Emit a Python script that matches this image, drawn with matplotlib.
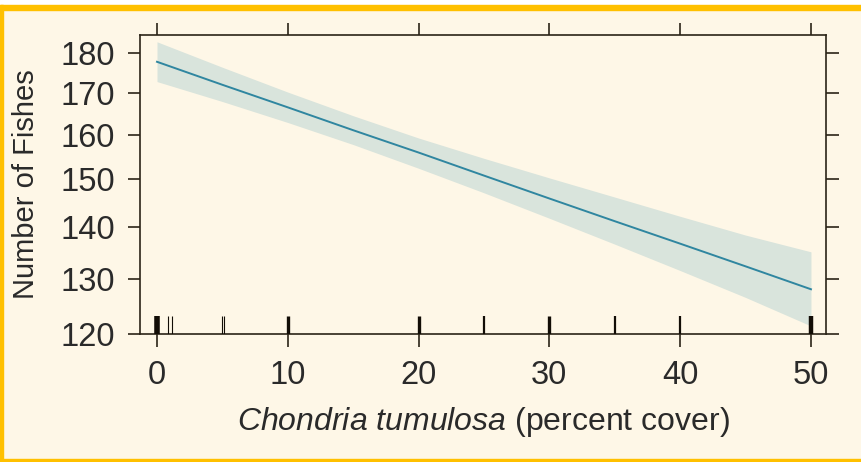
import matplotlib
matplotlib.use("Agg")
import matplotlib.pyplot as plt
import matplotlib.transforms as mtransforms
from matplotlib.patches import Rectangle

# effect of Chondria cover on fish counts (fitted line + 95% band, log axis)
cover = [0, 5, 10, 15, 20, 25, 30, 35, 40, 45, 50]
fit = [177.7, 171.9, 166.4, 161.0, 155.9, 150.8, 145.9, 141.2, 136.7, 132.3, 128.0]
upper = [182.9, 176.3, 170.1, 164.4, 159.2, 154.6, 150.3, 146.2, 142.2, 138.4, 135.1]
lower = [172.7, 167.8, 162.8, 157.7, 152.4, 147.1, 141.8, 136.6, 131.5, 126.5, 121.4]

# rug of observed cover values and how many overlap at each
rug_x = [0, 0.87, 1.13, 4.95, 5.15, 10, 20, 25, 30, 35, 40, 50]
rug_n = [5, 1, 1, 1, 1, 3, 3, 2, 3, 2, 2, 4]

xticks = [0, 10, 20, 30, 40, 50]
yticks = [120, 130, 140, 150, 160, 170, 180]

BG = "#fef7e7"
GOLD = "#ffc000"
INK = "#2b2418"

plt.rcParams["font.family"] = ["Liberation Sans", "DejaVu Sans"]
plt.rcParams["mathtext.fontset"] = "custom"
plt.rcParams["mathtext.rm"] = "Liberation Sans"
plt.rcParams["mathtext.it"] = "Liberation Sans:italic"

W, H = 862, 462
fig = plt.figure(figsize=(W / 100, H / 100), dpi=100, facecolor=BG)

# frame strips
fig.patches.append(Rectangle((0, 1 - 5 / H), 1, 5 / H, transform=fig.transFigure,
                             color="white", zorder=0))
fig.patches.append(Rectangle((0, 1 - 10 / H), 1, 5 / H, transform=fig.transFigure,
                             color=GOLD, zorder=0))
fig.patches.append(Rectangle((0, 0), 1, 3.5 / H, transform=fig.transFigure,
                             color=GOLD, zorder=0))
fig.patches.append(Rectangle((0, 0), 3.5 / W, 1 - 5 / H, transform=fig.transFigure,
                             color=GOLD, zorder=0))

ax = fig.add_axes([140 / W, (H - 334) / H, 686 / W, 299 / H])
ax.set_facecolor(BG)

ax.fill_between(cover, lower, upper, color="#d9e4dc", lw=0, zorder=1)
ax.plot(cover, fit, color="#2f86a0", lw=1.4, zorder=2)

trans = mtransforms.blended_transform_factory(ax.transData, ax.transAxes)
for x, n in zip(rug_x, rug_n):
    ax.plot([x, x], [0, 0.06], transform=trans, color="#120d06",
            lw=0.8 * n, solid_capstyle="butt", zorder=3)

ax.set_yscale("log")
ax.set_xlim(-1.3, 51.15)
ax.set_ylim(120, 184.7)
ax.set_xticks(xticks)
ax.set_xticklabels([str(v) for v in xticks])
ax.set_yticks(yticks)
ax.set_yticklabels([str(v) for v in yticks])
ax.minorticks_off()

ax.tick_params(axis="both", which="major", direction="out", length=9, width=1.2,
               color=INK, labelsize=23.5, labelcolor="#2a2a2a")
ax.tick_params(axis="x", pad=10, top=True)
ax.tick_params(axis="y", pad=9, right=True)
for sp in ax.spines.values():
    sp.set_color(INK)
    sp.set_linewidth(1.2)

ax.set_ylabel("Number of Fishes", fontsize=21, color="#2a2a2a", labelpad=15)
ax.set_xlabel(r"$\it{Chondria\ tumulosa}$ (percent cover)", fontsize=23,
              color="#2a2a2a", labelpad=10)

fig.savefig("out.png", dpi=100, facecolor=BG)
